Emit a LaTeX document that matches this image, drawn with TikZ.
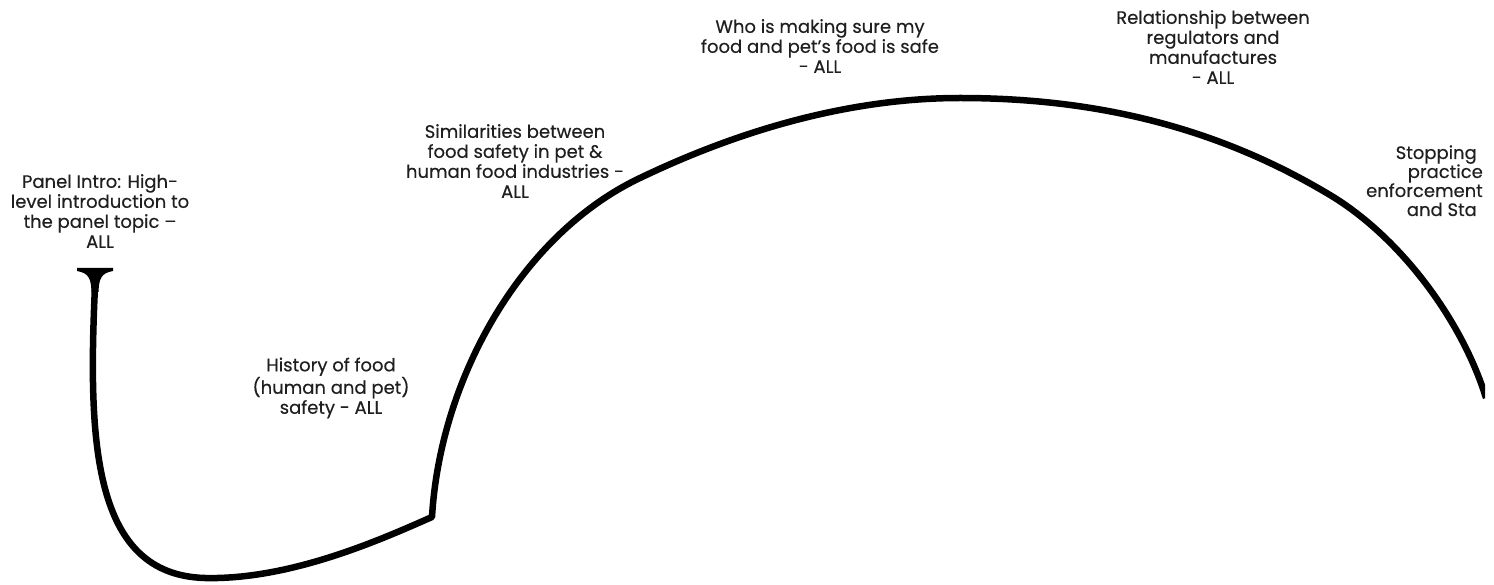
\documentclass[tikz,border=0pt]{standalone}
\usepackage{fontspec}
\setmainfont{Poppins}
\newfontfamily\lblfont{Poppins}[FakeBold=0.35,Ligatures=TeX]
\begin{document}
\begin{tikzpicture}[x=1pt,y=-1pt,
  lbl/.style={align=center,font=\lblfont\fontsize{18}{20}\selectfont,text=black!88,inner sep=0pt},
  lble/.style={anchor=base east,font=\lblfont\fontsize{18}{20}\selectfont,text=black!88,inner sep=0pt},
  curve/.style={line width=6.5pt,line join=round,black}]
\useasboundingbox (0,0) rectangle (1494,585);
\begin{scope}
\clip (0,0) rectangle (1485,585);
% T-bar start
\fill[black] (77,268) -- (113,268) -- (113,271) .. controls (101,273) and (99,279) .. (98.5,292)
  -- (91.5,292) .. controls (91,279) and (89,273) .. (77,271) -- cycle;
\coordinate (start) at (95,286);
\coordinate (bottom) at (205,578);
\coordinate (corner) at (432,517);
\coordinate (rise) at (640,178);
\coordinate (top) at (960,98);
\coordinate (desc) at (1330,195);
\coordinate (end) at (1486,398);
\draw[curve] (start) .. controls (88,440) and (92,575) .. (bottom)
  .. controls (290,580) and (380,540) .. (corner)
  .. controls (440,380) and (520,235) .. (rise)
  .. controls (740,130) and (850,98) .. (top)
  .. controls (1100,98) and (1220,129) .. (desc)
  .. controls (1400,237) and (1462,320) .. (end);
\end{scope}
% labels
\node[lbl] (intro) at (100,211) {Panel Intro: High-\\level introduction to\\the panel topic –\\ALL};
\node[lbl] (history) at (331,388) {History of food\\(human and pet)\\safety - ALL};
\node[lbl] (similar) at (515,161) {Similarities between\\food safety in pet \&\\human food industries -\\ALL};
\node[lbl] (who) at (820,46) {Who is making sure my\\food and pet’s food is safe\\- ALL};
\node[lbl] (relation) at (1213,47) {Relationship between\\regulators and\\manufactures\\- ALL};
\node[lble] (stop1) at (1477,159) {Stopping};
\node[lble] (stop2) at (1483,178) {practice};
\node[lble] (stop3) at (1483,197) {enforcement};
\node[lble] (stop4) at (1477,216) {and Sta};
\end{tikzpicture}
\end{document}
